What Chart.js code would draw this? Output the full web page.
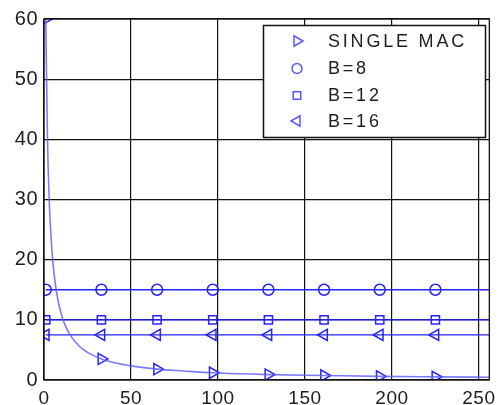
<!DOCTYPE html>
<html>
<head>
<meta charset="utf-8">
<script src="https://cdn.jsdelivr.net/npm/chart.js@4"></script>
<style>
html,body{margin:0;padding:0;background:#fff;}
#wrap{width:502px;height:405px;position:relative;}
</style>
</head>
<body>
<div id="wrap"><canvas id="c" width="502" height="405"></canvas></div>
<script>
// ---- data ----
const xTickLabels = [0, 50, 100, 150, 200, 250];
const yTickLabels = [0, 10, 20, 30, 40, 50, 60];
const seriesNames = ['SINGLE MAC', 'B=8', 'B=12', 'B=16'];

const markerX = [1, 33, 65, 97, 129, 161, 193, 225];
const singleMacMarkers = [60, 3.5, 1.8, 1.2, 0.9, 0.75, 0.6, 0.52];
const b8Markers  = [15, 15, 15, 15, 15, 15, 15, 15];
const b12Markers = [10, 10, 10, 10, 10, 10, 10, 10];
const b16Markers = [7.5, 7.5, 7.5, 7.5, 7.5, 7.5, 7.5, 7.5];

const curveX = [1, 2, 3, 4, 5, 6, 8, 10, 12, 15, 20, 25, 33, 40, 50, 65, 80, 97, 129, 161, 193, 225, 256];
const curveY = [60, 40, 30, 24, 20, 17.1, 13.3, 10.9, 9.2, 7.5, 5.7, 4.6, 3.5, 2.9, 2.35, 1.8, 1.5, 1.2, 0.9, 0.75, 0.6, 0.52, 0.46];

const lineX  = [1, 256];
const b8Line  = [15, 15];
const b12Line = [10, 10];
const b16Line = [7.5, 7.5];

const xMin = 0, xMax = 256, yMin = 0, yMax = 60;

// ---- styles ----
const BLUE = '#2424ff';
const CURVE = 'rgba(90,90,255,0.8)';
const FONT = '"Liberation Sans", Arial, sans-serif';
const TXT = '#1e1e1e';

const pts = (xs, ys) => xs.map((x, i) => ({x: x, y: ys[i]}));

const markerStyles = [
  {style: 'triangle', rotation: 90, radius: 6.5},
  {style: 'circle', rotation: 0, radius: 5.5},
  {style: 'rect', rotation: 0, radius: 5.8},
  {style: 'triangle', rotation: -90, radius: 6.5}
];

function markerDs(label, ys, k) {
  return {
    label: label, data: pts(markerX, ys), showLine: false,
    pointStyle: markerStyles[k].style, rotation: markerStyles[k].rotation,
    pointRadius: markerStyles[k].radius, pointBorderColor: BLUE,
    pointBackgroundColor: 'rgba(0,0,0,0)', pointBorderWidth: 1.5,
    pointHoverRadius: markerStyles[k].radius
  };
}
function lineDs(xs, ys, color, w, smooth) {
  return {
    label: '_line', data: pts(xs, ys), showLine: true, pointRadius: 0,
    borderColor: color, borderWidth: w, fill: false,
    cubicInterpolationMode: smooth ? 'monotone' : 'default', tension: 0
  };
}

const frameAndLegend = {
  id: 'frameAndLegend',
  beforeDraw(chart) {
    chart.ctx.letterSpacing = '0.5px';
  },
  afterDraw(chart) {
    const ctx = chart.ctx, a = chart.chartArea;
    ctx.save();
    ctx.strokeStyle = '#111';
    ctx.lineWidth = 1.3;
    ctx.strokeRect(a.left, a.top, a.right - a.left, a.bottom - a.top);
    // legend box
    const bx = 263.5, by = 25.5, bw = 222, bh = 112;
    ctx.fillStyle = '#fff';
    ctx.fillRect(bx, by, bw, bh);
    ctx.lineWidth = 1.5;
    ctx.strokeRect(bx, by, bw, bh);
    const rowsY = [41, 68.5, 95.5, 121];
    ctx.font = '18px ' + FONT;
    ctx.textBaseline = 'middle';
    ctx.textAlign = 'left';
    seriesNames.forEach((name, k) => {
      const m = markerStyles[k];
      ctx.strokeStyle = 'rgba(70,70,255,0.9)';
      ctx.fillStyle = 'rgba(0,0,0,0)';
      ctx.lineWidth = 1.5;
      Chart.helpers.drawPoint(ctx, {pointStyle: m.style, rotation: m.rotation, radius: m.radius - 0.5, borderWidth: 1.5}, 297, rowsY[k]);
      ctx.fillStyle = TXT;
      ctx.letterSpacing = '2.8px';
      ctx.fillText(name, 328, rowsY[k] + 1);
    });
    ctx.restore();
  }
};

new Chart(document.getElementById('c'), {
  type: 'scatter',
  data: {
    datasets: [
      lineDs(curveX, curveY, CURVE, 1.6, true),
      lineDs(lineX, b8Line, BLUE, 1.3, false),
      lineDs(lineX, b12Line, BLUE, 1.3, false),
      lineDs(lineX, b16Line, BLUE, 1.3, false),
      markerDs(seriesNames[0], singleMacMarkers, 0),
      markerDs(seriesNames[1], b8Markers, 1),
      markerDs(seriesNames[2], b12Markers, 2),
      markerDs(seriesNames[3], b16Markers, 3)
    ]
  },
  options: {
    responsive: false,
    animation: false,
    events: [],
    layout: {padding: {top: 19, right: 11, left: 0, bottom: 0}},
    plugins: {legend: {display: false}, tooltip: {enabled: false}},
    scales: {
      x: {
        type: 'linear', min: xMin, max: xMax,
        afterBuildTicks(s) { s.ticks = xTickLabels.map(v => ({value: v})); },
        afterFit(s) { s.height = 25; },
        grid: {color: '#111', lineWidth: 1.2, drawTicks: false},
        border: {display: false},
        ticks: {color: TXT, font: {family: FONT, size: 19}, padding: 7, maxRotation: 0}
      },
      y: {
        type: 'linear', min: yMin, max: yMax,
        afterBuildTicks(s) { s.ticks = yTickLabels.map(v => ({value: v})); },
        afterFit(s) { s.width = 44; },
        grid: {color: '#111', lineWidth: 1.2, drawTicks: false},
        border: {display: false},
        ticks: {color: TXT, font: {family: FONT, size: 20}, padding: 6}
      }
    }
  },
  plugins: [frameAndLegend]
});
</script>
</body>
</html>
